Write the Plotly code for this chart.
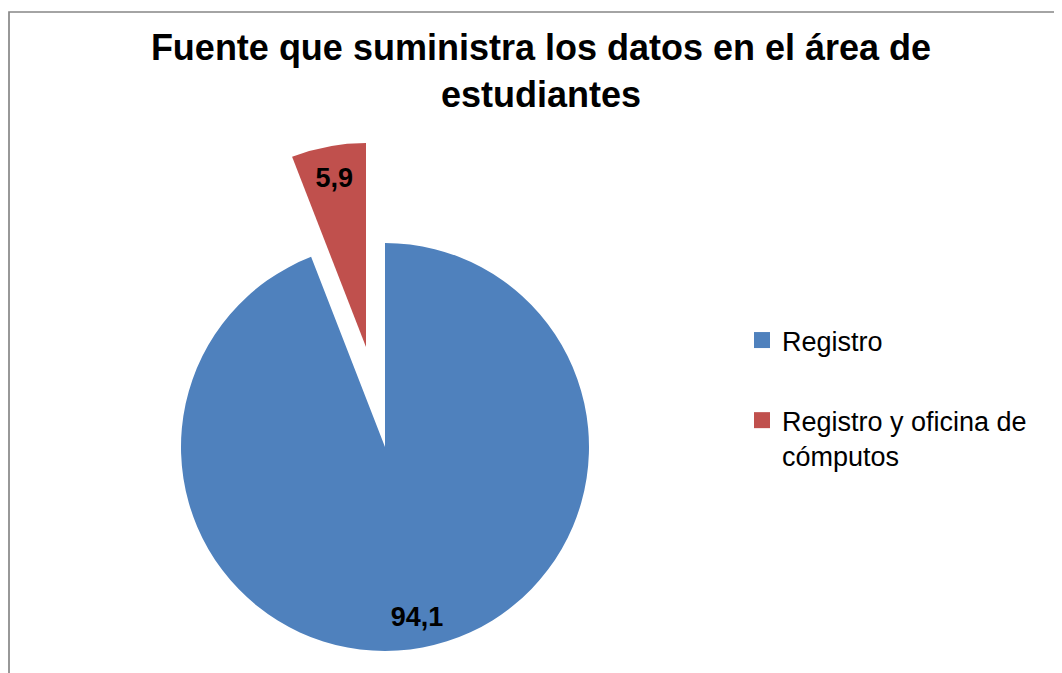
import plotly.graph_objects as go

# ---- data ----
categories = ["Registro", "Registro y oficina de cómputos"]
legend_labels = ["Registro", "Registro y oficina de<br>cómputos"]
values = [94.1, 5.9]
colors = ["#4F81BD", "#C0504D"]
title_text = "Fuente que suministra los datos en el área de<br>estudiantes"

W, H = 1062, 673
OFF = 8          # page body margin of the html page
R = 204          # pie radius in px
FONT = "Liberation Sans, Arial, sans-serif"


def domain(cx, cy, r):
    cx, cy = cx - OFF, cy - OFF
    return dict(x=[(cx - r) / W, (cx + r) / W],
                y=[1 - (cy + r) / H, 1 - (cy - r) / H])


transparent = "rgba(0,0,0,0)"
text_font = dict(family=FONT, size=27, color="black", weight="bold")
main_center = (385, 447)
pulled_center = (366, 347)

fig = go.Figure()

common = dict(labels=categories, values=values, sort=False, direction="clockwise",
              rotation=0, showlegend=False)

# main pie (blue slice drawn, red slice left empty)
fig.add_trace(go.Pie(
    **common, marker=dict(colors=[colors[0], transparent], line=dict(width=0)),
    textinfo="none", domain=domain(*main_center, R), hoverinfo="label+value",
))
# exploded slice (red slice drawn, blue slice left empty)
fig.add_trace(go.Pie(
    **common, marker=dict(colors=[transparent, colors[1]], line=dict(width=0)),
    textinfo="none", domain=domain(*pulled_center, R), hoverinfo="skip",
))
# data labels placed near the outer edge of each slice (invisible ring traces)
fig.add_trace(go.Pie(
    **common, hole=0.7, marker=dict(colors=[transparent, transparent], line=dict(width=0)),
    texttemplate=["%{value:.1f}", ""], textposition="inside",
    insidetextorientation="horizontal", insidetextfont=text_font,
    domain=domain(*main_center, R), hoverinfo="skip",
))
fig.add_trace(go.Pie(
    **common, hole=0.64, marker=dict(colors=[transparent, transparent], line=dict(width=0)),
    texttemplate=["", "%{value:.1f}"], textposition="inside",
    insidetextorientation="horizontal", insidetextfont=text_font,
    domain=domain(*pulled_center, R), hoverinfo="skip",
))

# legend entries
for i, (lab, col) in enumerate(zip(legend_labels, colors)):
    fig.add_trace(go.Scatter(
        x=[None], y=[None], mode="markers", name=lab, legendgroup=f"g{i}",
        marker=dict(symbol="square", size=16, color=col),
    ))

fig.update_layout(
    width=W, height=H,
    margin=dict(l=0, r=0, t=0, b=0),
    paper_bgcolor="white", plot_bgcolor="white",
    separators=",.",
    title=dict(text=title_text, x=(541 - OFF) / W, xanchor="center",
               y=1 - 52 / H, yanchor="top",
               font=dict(family=FONT, size=36, color="black", weight="bold")),
    xaxis=dict(visible=False), yaxis=dict(visible=False),
    legend=dict(x=(742 - OFF) / W, y=1 - (316 - OFF) / H, xanchor="left", yanchor="top",
                font=dict(family=FONT, size=27, color="black"),
                valign="top", tracegroupgap=42, bgcolor="rgba(0,0,0,0)"),
    shapes=[dict(type="rect", xref="paper", yref="paper",
                 x0=(9 - OFF) / W, x1=1.05, y0=-0.05, y1=1 - (12 - OFF) / H,
                 line=dict(color="#878787", width=1.7), fillcolor="rgba(0,0,0,0)",
                 layer="above")],
)

fig.write_html("out.html")
